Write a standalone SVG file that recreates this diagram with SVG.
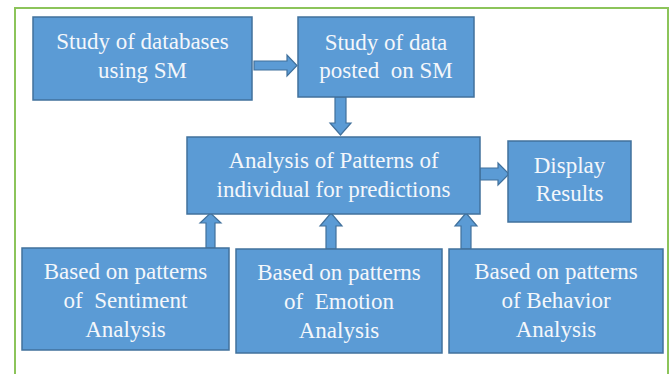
<svg xmlns="http://www.w3.org/2000/svg" width="670" height="374" viewBox="0 0 670 374">
<style>
.box{fill:#5B9BD5;stroke:#41719C;stroke-width:1.5}
.arr{fill:#5B9BD5;stroke:#41719C;stroke-width:1.2;stroke-linejoin:miter}
.t{font-family:"Liberation Serif","Times New Roman",serif;font-size:23px;fill:#F4F7FB;text-anchor:middle}
</style>
<rect x="0" y="0" width="670" height="374" fill="#FFFFFF"/>
<path d="M15,380 V8 H668 V380" fill="none" stroke="#8CC45A" stroke-width="2"/>
<g id="connectors">
<polygon class="arr" points="254,61 287,61 287,55 297,65.5 287,76 287,70 254,70"/>
<polygon class="arr" points="335,97 346,97 346,123 351,123 340.5,135 330,123 335,123"/>
<polygon class="arr" points="480,168 498,168 498,163 509,174 498,185 498,180 480,180"/>
<polygon class="arr" points="206,248 206,223 200,223 210.5,213 221,223 215,223 215,248"/>
<polygon class="arr" points="326,249 326,226 320,226 331,213 342,226 336,226 336,249"/>
<polygon class="arr" points="461,249 461,226 455,226 466,213 477,226 471,226 471,249"/>
</g>
<g id="n1">
<rect class="box" x="33" y="17" width="219" height="83"/>
<text class="t" x="142.5" y="49">Study of databases</text>
<text class="t" x="142.5" y="78">using SM</text>
</g>
<g id="n2">
<rect class="box" x="298" y="17" width="176" height="80"/>
<text class="t" x="386" y="50">Study of data</text>
<text class="t" x="386" y="78" xml:space="preserve">posted  on SM</text>
</g>
<g id="n3">
<rect class="box" x="187" y="137" width="293" height="77"/>
<text class="t" x="333.5" y="168">Analysis of Patterns of</text>
<text class="t" x="333.5" y="197">individual for predictions</text>
</g>
<g id="n4">
<rect class="box" x="508" y="141" width="123" height="81"/>
<text class="t" x="569.5" y="173">Display</text>
<text class="t" x="569.5" y="201">Results</text>
</g>
<g id="n5">
<rect class="box" x="22" y="248" width="207" height="102"/>
<text class="t" x="125.5" y="279">Based on patterns</text>
<text class="t" x="125.5" y="308" xml:space="preserve">of  Sentiment</text>
<text class="t" x="125.5" y="337">Analysis</text>
</g>
<g id="n6">
<rect class="box" x="236" y="249" width="206" height="104"/>
<text class="t" x="339" y="280">Based on patterns</text>
<text class="t" x="339" y="309" xml:space="preserve">of  Emotion</text>
<text class="t" x="339" y="338">Analysis</text>
</g>
<g id="n7">
<rect class="box" x="449" y="249" width="214" height="104"/>
<text class="t" x="556" y="279">Based on patterns</text>
<text class="t" x="556" y="308">of Behavior</text>
<text class="t" x="556" y="337">Analysis</text>
</g>
</svg>
